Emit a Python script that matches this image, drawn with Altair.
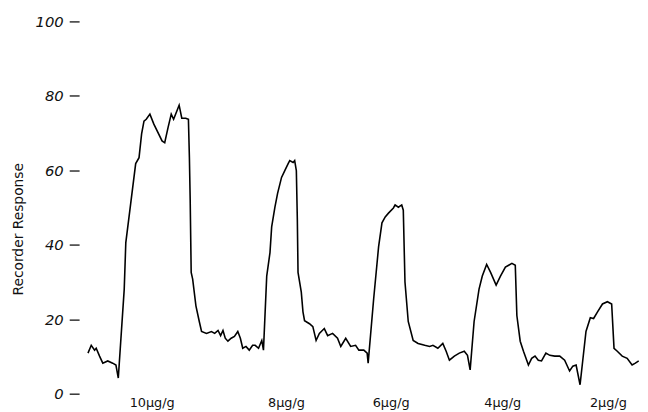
import altair as alt
import pandas as pd

# Recorder trace: time (arbitrary chart units) and recorder response
time = [9, 12.3, 15.7, 17.3, 20.7, 24, 29, 34, 37.3, 39.7,
        45.7, 47.3, 52.3, 57.3, 60.7, 63.3, 65.7, 68, 71.7, 75.7,
        84, 86.7, 90, 93.3, 95.7, 101.3, 104, 108, 110.7, 111.7,
        112.5, 113.5, 115, 118.3, 121.7,
        124, 129, 134, 137.3, 140.7, 143.3, 145.7, 148, 150.7, 154,
        157.3, 160.7, 163.3, 165.7, 169, 172.3, 175.7,
        178.3, 181.7, 185, 186.7, 190, 193.3, 195,
        198.3, 201, 205, 208.3, 211.7, 213.3, 216.7, 218.3, 220, 221,
        221.7, 225, 226.7, 228.3, 233.3, 236.7, 240, 243.3, 248.3, 251.7,
        256.7, 261.7, 265, 270, 275, 280, 283.3, 288.3, 291.7, 292.7,
        298.3, 303.3, 306.7, 310, 313.3, 318.3, 320, 323.3, 326.7, 328.3,
        330, 333.3, 338.3, 343.3, 350, 355, 358.3, 363.3, 368.3, 371.7,
        375, 380, 385, 390, 393.3, 396, 400, 405, 408.3, 412.7,
        416.7, 422.3, 426.7, 431.7, 435, 438.3, 441.7, 443.3, 446.7, 450,
        455, 458.3, 461.7, 465, 468.3, 472.7, 476.7, 481.7, 486.7, 491.7,
        496.7, 500, 503.3, 507.3, 513.3, 517.7, 521, 525, 530, 535,
        539.3, 541.7, 545, 550, 555, 560, 563.3, 566.7]
response = [10.9, 13.0, 11.7, 12.2, 10.1, 8.2, 8.8, 8.2, 7.7, 4.2,
            28.1, 40.6, 51.2, 61.8, 63.4, 69.8, 73.2, 73.7, 75.1, 72.4,
            67.9, 67.4, 71.4, 75.1, 73.7, 77.5, 74.0, 74.0, 73.7, 63.4,
            52.0, 32.6, 30.8, 23.6, 19.4,
            16.7, 16.2, 16.7, 16.2, 17.0, 15.6, 17.0, 14.9, 14.1, 14.9,
            15.4, 16.7, 14.9, 12.2, 12.7, 11.7, 13.0,
            13.0, 12.2, 14.3, 11.7, 31.6, 37.9, 44.8,
            50.1, 53.8, 58.1, 59.9, 61.8, 62.6, 62.1, 62.6, 59.9, 46.7,
            32.6, 27.3, 22.0, 19.6, 18.8, 18.0, 14.3, 16.2, 17.5, 15.6,
            16.2, 14.9, 12.7, 14.9, 12.7, 13.0, 11.7, 11.7, 10.9, 8.2,
            25.5, 39.5, 45.9, 47.5, 48.5, 49.9, 50.7, 50.1, 50.7, 49.3,
            30.0, 19.4, 14.3, 13.5, 13.0, 12.7, 13.0, 12.2, 13.5, 11.4,
            9.0, 10.1, 10.9, 11.4, 10.3, 6.4, 19.4, 28.1, 31.6, 34.7,
            32.6, 29.2, 31.6, 34.0, 34.5, 35.0, 34.5, 21.0, 14.1, 11.4,
            7.7, 9.5, 10.1, 9.0, 8.8, 10.9, 10.3, 10.1, 10.1, 9.0,
            6.1, 7.4, 7.7, 2.4, 16.7, 20.4, 20.2, 22.0, 24.1, 24.7,
            24.1, 12.2, 11.4, 10.1, 9.5, 7.7, 8.2, 8.8]

# Concentration labels below the trace
label_text = ["10μg/g", "8μg/g", "6μg/g", "4μg/g", "2μg/g"]
label_time = [74, 210, 316, 429, 536]
label_level = [-2.6, -2.4, -2.4, -2.4, -2.4]

y_ticks = [0, 20, 40, 60, 80, 100]

trace = pd.DataFrame({"t": time, "r": response})
labels = pd.DataFrame({"t": label_time, "r": label_level, "txt": label_text})

xs = alt.Scale(domain=[0, 568], nice=False, zero=False)
ys = alt.Scale(domain=[0, 100], nice=False, zero=False)

line = alt.Chart(trace).mark_line(color="black", strokeWidth=1.6).encode(
    x=alt.X("t:Q", scale=xs, axis=None),
    y=alt.Y("r:Q", scale=ys,
            axis=alt.Axis(values=y_ticks, title="Recorder Response",
                          domain=False, grid=False, tickSize=10,
                          tickColor="#222", tickWidth=1.4,
                          labelFont="DejaVu Sans", labelFontStyle="italic",
                          labelFontSize=15, labelColor="#111", labelPadding=6,
                          titleFont="DejaVu Sans", titleFontSize=14,
                          titleFontWeight="normal", titleColor="#111",
                          titleX=-61, titleY=210, titleAlign="center",
                          titleBaseline="middle", titleAngle=270)),
)

text = alt.Chart(labels).mark_text(font="DejaVu Sans", fontSize=13,
                                   color="#111", baseline="middle",
                                   align="center").encode(
    x=alt.X("t:Q", scale=xs),
    y=alt.Y("r:Q", scale=ys),
    text="txt:N",
)

chart = (line + text).properties(
    width=568, height=377,
    autosize=alt.AutoSizeParams(type="none"),
    padding={"left": 72, "top": 11, "right": 0, "bottom": 20},
).configure_view(stroke=None)

chart.save("out.html", embed_options={"renderer": "svg", "actions": False})
